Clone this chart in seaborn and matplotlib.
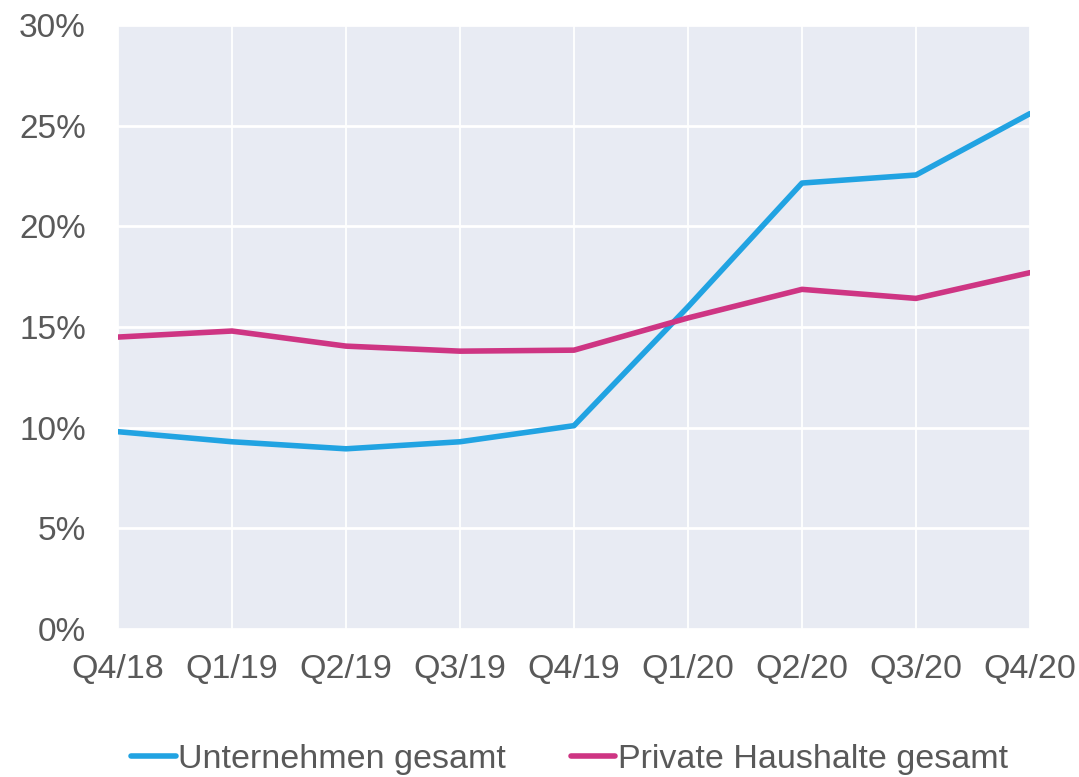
import matplotlib
matplotlib.use("Agg")
import matplotlib.pyplot as plt
import seaborn as sns
import pandas as pd
from matplotlib.ticker import FuncFormatter

quarters = ["Q4/18", "Q1/19", "Q2/19", "Q3/19", "Q4/19", "Q1/20", "Q2/20", "Q3/20", "Q4/20"]
unternehmen = [9.8, 9.3, 8.95, 9.3, 10.1, 16.0, 22.15, 22.55, 25.6]
haushalte = [14.5, 14.8, 14.05, 13.8, 13.85, 15.45, 16.87, 16.42, 17.7]
series_names = ["Unternehmen gesamt", "Private Haushalte gesamt"]
colors = ["#21A3E2", "#CE3583"]

df = pd.DataFrame({
    "quarter": quarters * 2,
    "x": list(range(len(quarters))) * 2,
    "value": unternehmen + haushalte,
    "series": [series_names[0]] * len(quarters) + [series_names[1]] * len(quarters),
})

sns.set_theme(style="darkgrid", rc={
    "axes.facecolor": "#E8EBF3",
    "grid.color": "white",
})
plt.rcParams["font.family"] = ["Liberation Sans", "DejaVu Sans"]

fig = plt.figure(figsize=(10.79, 7.77), dpi=100)
ax = fig.add_axes([118 / 1079, 1 - 629 / 777, (1030 - 118) / 1079, (629 - 25) / 777])

sns.lineplot(data=df, x="x", y="value", hue="series", palette=colors,
             linewidth=4.0, ax=ax, legend=True, sort=False)

ax.set_xlim(0, len(quarters) - 1)
ax.set_ylim(0, 30)
ax.set_yticks([0, 5, 10, 15, 20, 25, 30])
ax.yaxis.set_major_formatter(FuncFormatter(lambda v, p: f"{int(v)}%"))
ax.set_xticks(range(len(quarters)))
ax.set_xticklabels(quarters)
ax.set_xlabel("")
ax.set_ylabel("")
ax.grid(True, axis="y", color="white", linewidth=2.0)
ax.grid(True, axis="x", color="white", linewidth=1.3)
for s in ax.spines.values():
    s.set_visible(False)
ax.tick_params(axis="y", length=0, labelsize=24, labelcolor="#595959", pad=23)
ax.tick_params(axis="x", length=0, labelsize=24.5, labelcolor="#595959", pad=18)

handles, labels = ax.get_legend_handles_labels()
ax.get_legend().remove()
fig.legend(handles, labels, loc="center", bbox_to_anchor=(0.528, 0.022),
           ncol=2, frameon=False, fontsize=24.5, handlelength=1.3,
           handletextpad=0.08, columnspacing=1.9, labelcolor="#595959",
           borderaxespad=0, borderpad=0)

fig.savefig("out.png", dpi=100, facecolor="white")
